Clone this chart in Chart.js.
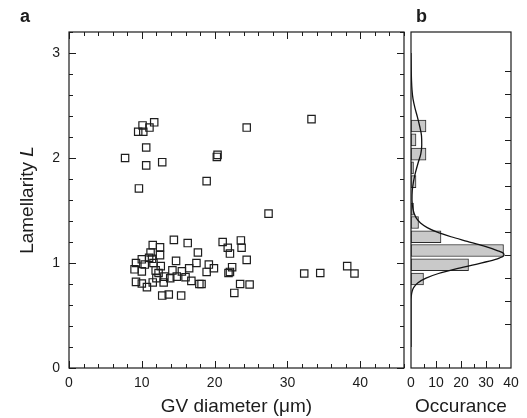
<!DOCTYPE html>
<html><head><meta charset="utf-8">
<script src="https://cdn.jsdelivr.net/npm/chart.js@4.4.0/dist/chart.umd.min.js"></script>
<style>
html,body{margin:0;padding:0;background:#fff;}
#wrap{position:relative;width:527px;height:418px;overflow:hidden;}
canvas{position:absolute;left:0;top:0;}
</style></head><body>
<div id="wrap"><canvas id="c1" width="527" height="418"></canvas><canvas id="c2" width="527" height="418"></canvas></div>
<script>
// ---- data ----
const gvDiameter = [10.1,11.7,11.05,9.5,10.2,10.6,7.7,10.6,12.8,9.6,20.4,20.3,24.4,18.9,27.4,33.3,
  14.4,16.3,11.5,12.5,21.1,23.6,21.8,23.7,22.1,17.7,11.2,12.5,11.0,10.0,11.4,9.2,10.4,11.6,14.7,17.5,19.2,24.4,
  12.6,9.0,10.0,11.9,19.9,18.9,22.4,22.1,21.9,15.5,14.2,16.5,12.3,13.1,14.8,13.9,16.0,12.0,9.2,10.0,11.5,13.0,
  10.7,16.8,17.9,18.2,12.8,13.7,15.4,23.5,24.8,22.7,32.3,34.5,38.2,39.2];
const lamellarity = [2.31,2.34,2.29,2.25,2.25,2.10,2.0,1.93,1.96,1.71,2.03,2.01,2.29,1.78,1.47,2.37,
  1.22,1.19,1.17,1.15,1.20,1.215,1.145,1.145,1.09,1.10,1.10,1.075,1.05,1.035,1.04,1.0,0.985,1.0,1.02,1.0,0.985,1.03,
  0.97,0.94,0.92,0.93,0.95,0.915,0.96,0.915,0.905,0.92,0.93,0.95,0.905,0.87,0.87,0.855,0.865,0.855,0.82,0.805,0.815,0.815,
  0.77,0.83,0.80,0.80,0.69,0.70,0.69,0.80,0.795,0.715,0.90,0.905,0.97,0.90];
const histBinCenters = [0.74,0.895,1.05,1.2,1.355,1.5,1.8,1.95,2.1,2.255,2.405];
const histCounts = [5,23,37,12,3,1,2,1,6,2,6];
const fitL =   [3.2,3.0,2.9,2.8,2.7,2.6,2.5,2.4,2.3,2.2,2.1,2.0,1.9,1.8,1.7,1.6,1.5,1.45,1.4,1.35,1.3,1.25,1.2,1.15,1.1,1.05,1.02,1.0,0.97,0.95,0.9,0.85,0.8,0.75,0.7,0.65,0.6,0.55,0.5,0.0];
const fitOcc = [0.0,0.1,0.2,0.4,0.8,1.6,2.6,3.5,4.2,4.3,3.9,2.8,1.8,1.0,0.5,0.4,0.8,1.3,2.2,3.8,6.5,10.5,16,22.5,29,34.5,37,37.2,35.5,33.5,26,18,11,6,2.8,1.1,0.4,0.1,0,0];
const xTicksA = [0,10,20,30,40];
const yTicksA = [0,1,2,3];
const xTicksB = [0,10,20,30,40];

const FONT = '"Liberation Sans", Arial, Helvetica, sans-serif';
const INK = '#1c1c1c';
const TITLE_PX = 19;

function drawTicks(ctx, chart, axis, values, side, len) {
  const a = chart.chartArea, s = chart.scales[axis];
  ctx.beginPath();
  values.forEach(v => {
    const p = Math.round(s.getPixelForValue(v)) + 0.5;
    if (side === 'bottom') { ctx.moveTo(p, a.bottom); ctx.lineTo(p, a.bottom - len); }
    if (side === 'top') { ctx.moveTo(p, a.top); ctx.lineTo(p, a.top + len); }
    if (side === 'left') { ctx.moveTo(a.left, p); ctx.lineTo(a.left + len, p); }
    if (side === 'right') { ctx.moveTo(a.right, p); ctx.lineTo(a.right - len, p); }
  });
  ctx.stroke();
}
function range(a, b, st) { const r = []; for (let i = 0; a + i * st <= b + 1e-9; i++) r.push(+(a + i * st).toFixed(4)); return r; }

const frameA = {
  id: 'frameA',
  afterDraw(chart) {
    const ctx = chart.ctx, a = chart.chartArea;
    ctx.save();
    ctx.strokeStyle = INK; ctx.lineWidth = 1.2;
    ctx.strokeRect(a.left, a.top, a.right - a.left, a.bottom - a.top);
    ctx.lineWidth = 1;
    const xMin = range(0, 46, 2), yMin = range(0, 3.2, 0.2);
    ['bottom', 'top'].forEach(sd => { drawTicks(ctx, chart, 'x', xMin, sd, 4); drawTicks(ctx, chart, 'x', xTicksA, sd, 7); });
    ['left', 'right'].forEach(sd => { drawTicks(ctx, chart, 'y', yMin, sd, 4); drawTicks(ctx, chart, 'y', yTicksA, sd, 7); });
    ctx.fillStyle = INK;
    ctx.font = 'bold 18px ' + FONT; ctx.textAlign = 'left'; ctx.textBaseline = 'alphabetic';
    ctx.fillText('a', 20, 22);
    ctx.font = TITLE_PX + 'px ' + FONT; ctx.textAlign = 'center';
    ctx.fillText('GV diameter (\u03bcm)', (a.left + a.right) / 2, 412);
    ctx.save();
    ctx.translate(33, (a.top + a.bottom) / 2);
    ctx.rotate(-Math.PI / 2);
    const t1 = 'Lamellarity ', t2 = 'L';
    ctx.font = TITLE_PX + 'px ' + FONT; const w1 = ctx.measureText(t1).width;
    ctx.font = 'italic ' + TITLE_PX + 'px ' + FONT; const w2 = ctx.measureText(t2).width;
    ctx.textAlign = 'left';
    ctx.font = TITLE_PX + 'px ' + FONT; ctx.fillText(t1, -(w1 + w2) / 2, 0);
    ctx.font = 'italic ' + TITLE_PX + 'px ' + FONT; ctx.fillText(t2, -(w1 + w2) / 2 + w1, 0);
    ctx.restore();
    ctx.restore();
  }
};

const frameB = {
  id: 'frameB',
  afterDraw(chart) {
    const ctx = chart.ctx, a = chart.chartArea;
    ctx.save();
    ctx.strokeStyle = INK; ctx.lineWidth = 1.2;
    ctx.strokeRect(a.left, a.top, a.right - a.left, a.bottom - a.top);
    ctx.lineWidth = 1;
    drawTicks(ctx, chart, 'x', [5, 15, 25, 35], 'bottom', 4);
    drawTicks(ctx, chart, 'x', [10, 20, 30], 'bottom', 7);
    drawTicks(ctx, chart, 'y', range(0.25, 3.0, 0.25), 'right', 6);
    ctx.fillStyle = INK;
    ctx.font = 'bold 18px ' + FONT; ctx.textAlign = 'left';
    ctx.fillText('b', 416, 22);
    ctx.font = TITLE_PX + 'px ' + FONT; ctx.textAlign = 'center';
    ctx.fillText('Occurance', (a.left + a.right) / 2, 412);
    ctx.restore();
  }
};

const tickFont = { family: FONT, size: 14 };

new Chart(document.getElementById('c1'), {
  type: 'scatter',
  data: { datasets: [{
    data: gvDiameter.map((x, i) => ({ x, y: lamellarity[i] })),
    pointStyle: 'rect', radius: 5.2, hoverRadius: 5.2,
    borderColor: '#1e1e1e', borderWidth: 1.2, backgroundColor: 'rgba(0,0,0,0)'
  }] },
  options: {
    responsive: false, animation: false, events: [],
    plugins: { legend: { display: false }, tooltip: { enabled: false } },
    layout: { padding: { left: 0, right: 123, top: 32, bottom: 0 } },
    scales: {
      x: { type: 'linear', min: 0, max: 46,
        afterFit(s) { s.height = 50; },
        afterBuildTicks(s) { s.ticks = xTicksA.map(v => ({ value: v })); },
        ticks: { font: tickFont, color: INK, padding: 7, maxRotation: 0, autoSkip: false },
        grid: { display: false, drawTicks: false }, border: { display: false } },
      y: { type: 'linear', min: 0, max: 3.2,
        afterFit(s) { s.width = 69; },
        afterBuildTicks(s) { s.ticks = yTicksA.map(v => ({ value: v })); },
        ticks: { font: tickFont, color: INK, padding: 9, autoSkip: false },
        grid: { display: false, drawTicks: false }, border: { display: false } }
    }
  },
  plugins: [frameA]
});

new Chart(document.getElementById('c2'), {
  type: 'bar',
  data: { datasets: [
    { type: 'line', order: 0, indexAxis: 'y',
      data: fitL.map((l, i) => ({ x: fitOcc[i], y: l })),
      borderColor: '#111', borderWidth: 1.3, pointRadius: 0, fill: false,
      cubicInterpolationMode: 'monotone' },
    { type: 'bar', order: 1,
      data: histBinCenters.map((c, i) => ({ x: histCounts[i], y: c })),
      backgroundColor: '#c9c9c9', borderColor: '#2a2a2a', borderWidth: 1,
      barThickness: 12, borderSkipped: false }
  ] },
  options: {
    indexAxis: 'y',
    responsive: false, animation: false, events: [],
    plugins: { legend: { display: false }, tooltip: { enabled: false } },
    layout: { padding: { left: 411, right: 16, top: 32, bottom: 0 } },
    scales: {
      x: { type: 'linear', min: 0, max: 40,
        afterFit(s) { s.height = 50; },
        afterBuildTicks(s) { s.ticks = xTicksB.map(v => ({ value: v })); },
        ticks: { font: tickFont, color: INK, padding: 7, maxRotation: 0, autoSkip: false },
        grid: { display: false, drawTicks: false }, border: { display: false } },
      y: { type: 'linear', min: 0, max: 3.2, display: false }
    }
  },
  plugins: [frameB]
});
</script>
</body></html>
